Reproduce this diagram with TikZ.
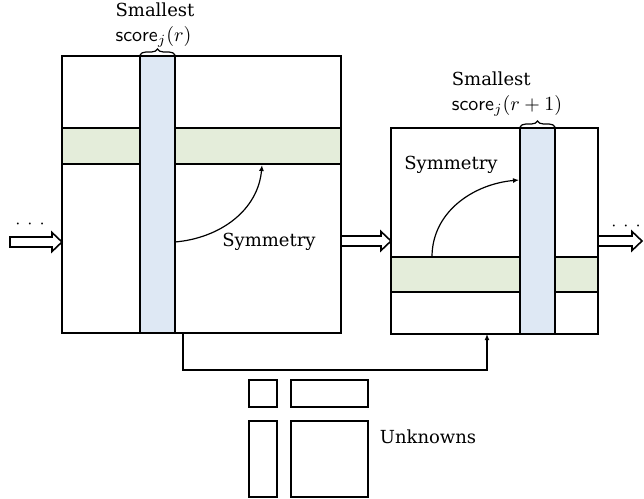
\documentclass[tikz,border=0pt]{standalone}
\usepackage[svgnames]{xcolor}
\usepackage{amsmath, amssymb}
\usepackage{fontspec}
\newfontfamily\slabfont{DejaVu Serif}
\usetikzlibrary{arrows.meta,calc,decorations.pathreplacing}
\definecolor{ColBlue}{RGB}{222,232,244}
\definecolor{RowGreen}{RGB}{228,237,218}

\newcommand{\fatarrow}[2]{%
  \draw[line width=0.8pt, fill=white] ($(#1)+(0,-5)$) -- ($(#2)+(-10,-5)$) -- ($(#2)+(-10,-9.5)$)
    -- (#2) -- ($(#2)+(-10,9.5)$) -- ($(#2)+(-10,5)$) -- ($(#1)+(0,5)$) -- cycle;}

\begin{document}
\begin{tikzpicture}[x=0.5pt, y=-0.5pt, line width=0.7pt,
      every node/.append style={font=\slabfont\fontsize{9}{12.5}\selectfont},
      link/.style={-{Latex[length=3pt,width=2.5pt]}, line width=0.6pt},
      brace/.style={decorate, decoration={brace, amplitude=3pt}, line width=0.6pt}]
    \tikzstyle{mat} = [draw, inner sep=0pt, outer sep=0pt, anchor=north west]
    \tikzstyle{row} = [fill=RowGreen, draw]
    \tikzstyle{col} = [fill=ColBlue, draw]
    \useasboundingbox (0,0) rectangle (644,499);

    % first matrix
    \fill[white] (62,56) rectangle (341,333);
    \draw[row] (62,128) rectangle (341,164);
    \draw[col] (140,56) rectangle (175,333);
    \node[mat, minimum width=139.5pt, minimum height=138.5pt] (left) at (62,56) {};
    \draw[brace] (140,55) -- (175,55);
    \node[align=left] (lbl1) at (155,25) {Smallest\\\fontsize{10}{12}\selectfont$\mathsf{score}_j(r)$};

    % second matrix
    \fill[white] (391,128) rectangle (598,334);
    \draw[row] (391,257) rectangle (598,292);
    \draw[col] (520,128) rectangle (555,334);
    \node[mat, minimum width=103.5pt, minimum height=103pt] (right) at (391,128) {};
    \draw[brace] (520,127) -- (555,127);
    \node[align=left] (lbl2) at (507,94) {Smallest\\\fontsize{10}{12}\selectfont$\mathsf{score}_j(r+1)$};

    % symmetry
    \coordinate (s1) at (175,242);
    \coordinate (e1) at (262,165);
    \draw[link] (s1) to[out=5, in=265] (e1);
    \node (sym1) at (269,242) {Symmetry};
    \coordinate (s2) at (432,257);
    \coordinate (e2) at (519,180);
    \draw[link] (s2) to[out=90, in=185] (e2);
    \node (sym2) at (451,165) {Symmetry};

    % flow between steps
    \coordinate (in0) at (10,242);
    \coordinate (in1) at (62,242);
    \coordinate (mid0) at (341,241);
    \coordinate (mid1) at (391,241);
    \coordinate (out0) at (598,241);
    \coordinate (out1) at (642,241);
    \fatarrow{in0}{in1}
    \fatarrow{mid0}{mid1}
    \fatarrow{out0}{out1}
    \node (dots1) at (30,224) {$\cdot\hspace{3.5pt}{\cdot}\hspace{3.5pt}{\cdot}$};
    \node (dots2) at (626,226) {$\cdot\hspace{3.5pt}{\cdot}\hspace{3.5pt}{\cdot}$};

    \coordinate (b1) at (183,333);
    \coordinate (b2) at (487,334);
    \draw[link] (b1) -- ++(0,37) -| (b2);

    % unknowns
    \draw[line width=0.9pt] (249,380) rectangle (277,407);
    \draw[line width=0.9pt] (291,380) rectangle (368,407);
    \draw[line width=0.9pt] (249,421) rectangle (277,497);
    \draw[line width=0.9pt] (291,421) rectangle (368,497);
    \node (unk) at (428,437) {Unknowns};
\end{tikzpicture}
\end{document}
